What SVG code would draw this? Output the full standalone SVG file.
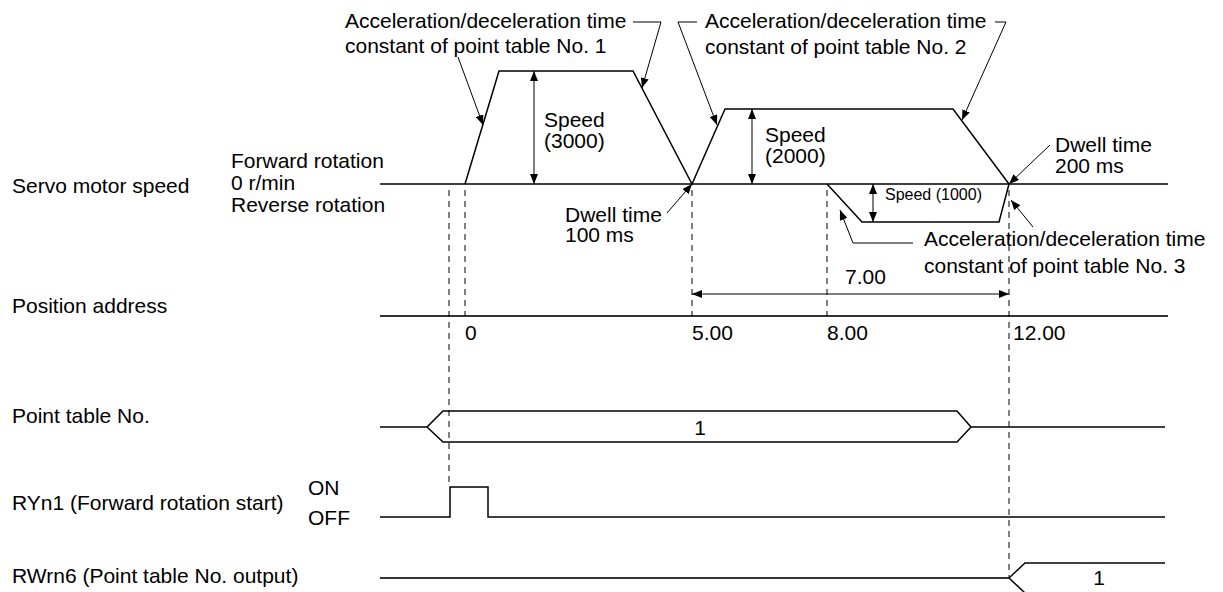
<svg xmlns="http://www.w3.org/2000/svg" width="1223" height="592" viewBox="0 0 1223 592">
<defs>
<marker id="ah" viewBox="0 0 10 8" refX="10" refY="4" markerWidth="10" markerHeight="8" markerUnits="userSpaceOnUse" orient="auto-start-reverse"><path d="M0,0 L10,4 L0,8 z" fill="#000"/></marker>
</defs>
<style>
text{font-family:"Liberation Sans",Arial,sans-serif;font-size:21px;fill:#000}
.s{font-size:16px}
.w{fill:none;stroke:#000;stroke-width:1.5}
.g{fill:none;stroke:#333;stroke-width:2}
.d{fill:none;stroke:#000;stroke-width:1;stroke-dasharray:6,5}
.l{fill:none;stroke:#000;stroke-width:1}
.a{marker-end:url(#ah)}
.aa{marker-start:url(#ah);marker-end:url(#ah)}
</style>
<rect width="1223" height="592" fill="#fff"/>
<g id="labels">
<text x="12" y="193">Servo motor speed</text>
<text x="231" y="168">Forward rotation</text>
<text x="231" y="190">0 r/min</text>
<text x="231" y="212">Reverse rotation</text>
<text x="12" y="313">Position address</text>
<text x="12" y="423">Point table No.</text>
<text x="12" y="510">RYn1 (Forward rotation start)</text>
<text x="308" y="495">ON</text>
<text x="308" y="525">OFF</text>
<text x="12" y="583">RWrn6 (Point table No. output)</text>
</g>
<g id="speed">
<path class="w" d="M380,184 H1168"/>
<path class="w" d="M465,184 L499,71 H633 L692,184 L725,109 H953 L1009,184"/>
<path class="w" d="M827,184 L862,222 H999 L1009,184"/>
<line class="l aa" x1="534" y1="71" x2="534" y2="184"/>
<line class="l aa" x1="752" y1="109" x2="752" y2="184"/>
<line class="l aa" x1="873" y1="184" x2="873" y2="222"/>
<text x="544" y="127">Speed</text>
<text x="544" y="148">(3000)</text>
<text x="765" y="142">Speed</text>
<text x="765" y="163">(2000)</text>
<text class="s" x="885" y="200">Speed (1000)</text>
</g>
<g id="position">
<path class="g" d="M380,316 H1168"/>
<text x="465" y="340">0</text>
<text x="692" y="340">5.00</text>
<text x="827" y="340">8.00</text>
<text x="1013" y="340">12.00</text>
<line class="l aa" x1="692" y1="294" x2="1009" y2="294"/>
<text x="845" y="284">7.00</text>
</g>
<g id="pointtable">
<path class="w" d="M380,427 H427 L443,411 H957 L971,427 H1165 M427,427 L443,442 H957 L971,427"/>
<text x="700" y="435" text-anchor="middle">1</text>
</g>
<g id="ryn1">
<path class="w" d="M380,517 H450 V487 H488 V517 H1165"/>
</g>
<g id="rwrn6">
<path class="g" d="M380,578 H1009"/>
<path class="w" d="M1009,578 L1025,563 H1165 M1009,578 L1025,593"/>
<text x="1099" y="585" text-anchor="middle">1</text>
</g>
<g id="annotations">
<text x="345" y="28">Acceleration/deceleration time</text>
<text x="345" y="53">constant of point table No. 1</text>
<text x="705" y="28">Acceleration/deceleration time</text>
<text x="705" y="54">constant of point table No. 2</text>
<text x="565" y="222">Dwell time</text>
<text x="565" y="242">100 ms</text>
<text x="1055" y="152">Dwell time</text>
<text x="1055" y="173">200 ms</text>
<text x="924" y="246">Acceleration/deceleration time</text>
<text x="924" y="273">constant of point table No. 3</text>
</g>
<g id="connectors">
<line class="d" x1="449" y1="190" x2="449" y2="487"/>
<line class="d" x1="465" y1="190" x2="465" y2="316"/>
<line class="d" x1="692" y1="190" x2="692" y2="316"/>
<line class="d" x1="827" y1="190" x2="827" y2="316"/>
<line class="d" x1="1009" y1="190" x2="1009" y2="577"/>
<path class="l a" d="M633,22 H661 L642,88"/>
<path class="l a" d="M458,57 L483,125"/>
<path class="l a" d="M697,22 H678 L717,125"/>
<path class="l a" d="M995,22 H1006 L962,120"/>
<path class="l a" d="M667,213 L692,184"/>
<path class="l a" d="M1050,145 L1009,184"/>
<path class="l a" d="M913,243 H853 L840,210"/>
<path class="l a" d="M1033,227 L1011,200"/>
</g>
</svg>
